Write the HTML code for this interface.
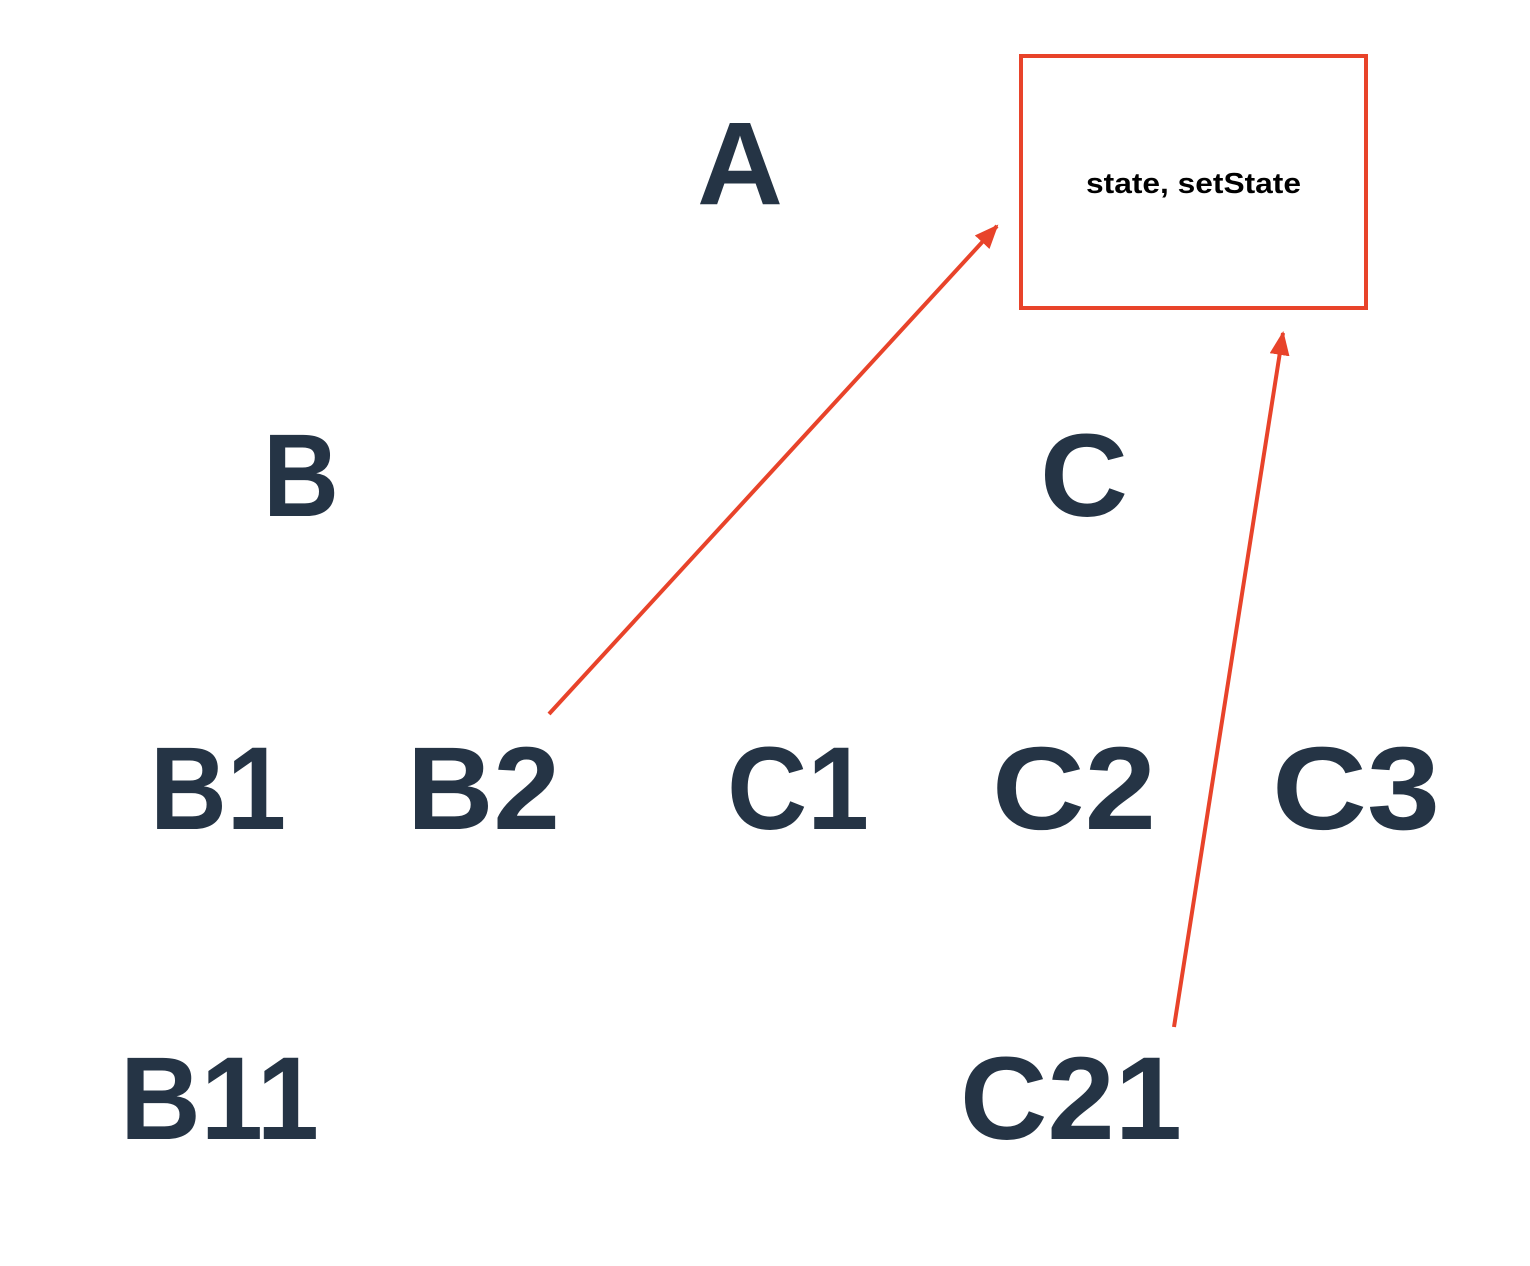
<!DOCTYPE html>
<html>
<head>
<meta charset="utf-8">
<style>
  html,body{margin:0;padding:0;background:#fff;}
  svg{display:block;}
  .node{font-family:"Liberation Sans",sans-serif;font-weight:bold;font-size:118px;fill:#253445;}
</style>
</head>
<body>
<svg width="1530" height="1266" viewBox="0 0 1530 1266">
  <defs>
    <marker id="ah" markerWidth="24" markerHeight="20" refX="22" refY="10" orient="auto" markerUnits="userSpaceOnUse" viewBox="0 0 24 20">
      <path d="M0,0 L24,10 L0,20 z" fill="#e8432a"/>
    </marker>
  </defs>
  <rect x="1021" y="56" width="345" height="252" fill="none" stroke="#e8432a" stroke-width="4"/>
  <text x="1086" y="193" textLength="215" lengthAdjust="spacingAndGlyphs" style="font-family:'Liberation Sans',sans-serif;font-weight:bold;font-size:29px;fill:#000;">state, setState</text>

  <text class="node" x="697" y="204" textLength="86" lengthAdjust="spacingAndGlyphs">A</text>
  <text class="node" x="263" y="516" textLength="76" lengthAdjust="spacingAndGlyphs">B</text>
  <text class="node" x="1040" y="516" textLength="88" lengthAdjust="spacingAndGlyphs">C</text>
  <text class="node" x="150" y="829" textLength="136" lengthAdjust="spacingAndGlyphs">B1</text>
  <text class="node" x="407" y="829" textLength="153" lengthAdjust="spacingAndGlyphs">B2</text>
  <text class="node" x="727" y="829" textLength="142" lengthAdjust="spacingAndGlyphs">C1</text>
  <text class="node" x="992" y="829" textLength="164" lengthAdjust="spacingAndGlyphs">C2</text>
  <text class="node" x="1272" y="829" textLength="168" lengthAdjust="spacingAndGlyphs">C3</text>
  <text class="node" x="120" y="1139" textLength="199" lengthAdjust="spacingAndGlyphs">B11</text>
  <text class="node" x="960" y="1139" textLength="222" lengthAdjust="spacingAndGlyphs">C21</text>

  <line x1="549" y1="714" x2="997" y2="226" stroke="#e8432a" stroke-width="4" marker-end="url(#ah)"/>
  <line x1="1174" y1="1027" x2="1283" y2="333" stroke="#e8432a" stroke-width="4" marker-end="url(#ah)"/>
</svg>
</body>
</html>
